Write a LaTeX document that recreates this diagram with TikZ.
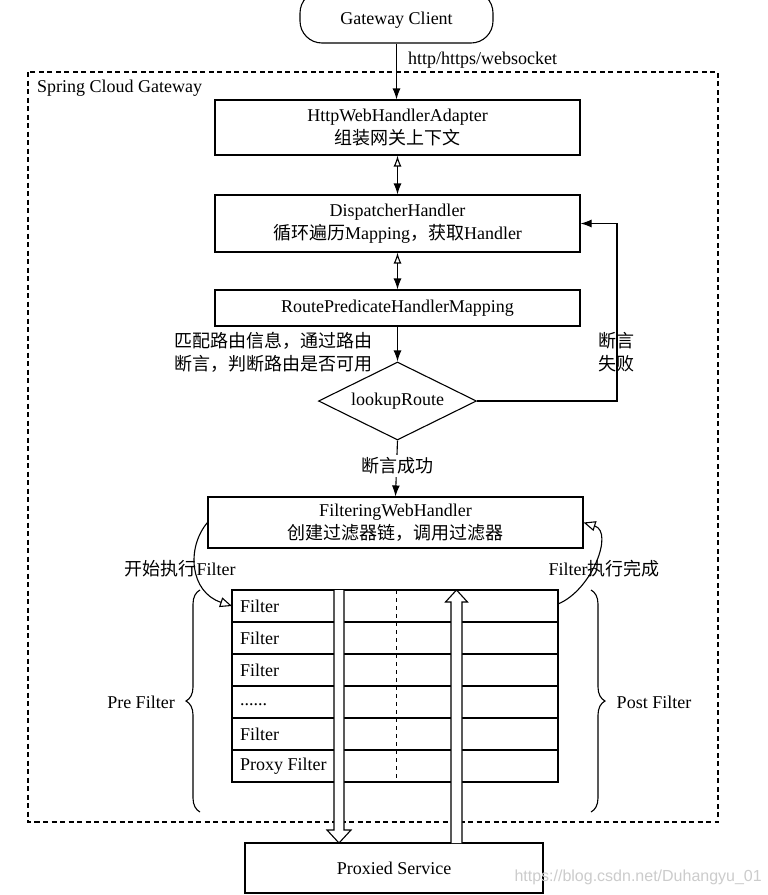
\documentclass[tikz,border=0pt]{standalone}
\usepackage{fontspec}
\setmainfont{Liberation Serif}
\newfontfamily\cjk{Noto Sans CJK SC}
\newfontfamily\wmfont{Liberation Sans}
\usetikzlibrary{shapes.geometric,arrows.meta,decorations.pathreplacing,calc}
\newcommand{\zh}[1]{{\cjk #1}}
\begin{document}
\begin{tikzpicture}[x=1pt,y=-1pt,
  every node/.style={font=\fontsize{18}{23}\selectfont},
  box/.style={draw, line width=1.1pt, rectangle, align=center, inner sep=0pt},
  conn/.style={line width=1.1pt},
  fa/.style={-{Latex[length=11pt,width=8pt]}},
  da/.style={{Latex[open,length=11pt,width=8pt]}-{Latex[length=11pt,width=8pt]}},
  oa/.style={-{Triangle[open,length=12pt,width=10pt]}},
  bigarrow/.style={draw, fill=white, line width=1.1pt},
  tline/.style={line width=1.1pt},
  flabel/.style={anchor=west, inner xsep=8pt, inner ysep=0pt},
  plain/.style={inner sep=0pt}
]
\useasboundingbox (0,0) rectangle (768,895);
\fill[white] (0,0) rectangle (768,895);

% outer dashed frame
\draw[line width=1.2pt, dash pattern=on 5pt off 3.5pt] (28,72) rectangle (718,822);
\node[plain, anchor=west] (scg) at (37,88) {Spring Cloud Gateway};

% nodes
\node[box, rounded corners=22pt, minimum width=193, minimum height=52] (client) at (396.5,17) {};
\node[plain] (clienttext) at (396.5,20) {Gateway Client};
\node[box, minimum width=365, minimum height=55] (adapter) at (397.5,127.5) {HttpWebHandlerAdapter\\\zh{组装网关上下文}};
\node[box, minimum width=365, minimum height=57] (dispatcher) at (397.5,223.5) {DispatcherHandler\\\zh{循环遍历}Mapping\zh{，获取}Handler};
\node[box, minimum width=365, minimum height=36] (rphm) at (397.5,308) {RoutePredicateHandlerMapping};
\node[draw, diamond, aspect=2, line width=1.1pt, minimum width=158, minimum height=78, inner sep=0pt] (lookup) at (397.5,401) {lookupRoute};
\node[box, minimum width=375, minimum height=51] (filtering) at (395.5,522.5) {FilteringWebHandler\\\zh{创建过滤器链，调用过滤器}};
\node[box, minimum width=298, minimum height=50] (proxied) at (394,868) {Proxied Service};

% connectors
\draw[conn, fa] (client.south) -- (client.south |- adapter.north);
\node[plain, anchor=west] (proto) at (408,60) {http/https/websocket};
\draw[conn, da] (adapter.south) -- (dispatcher.north);
\draw[conn, da] (dispatcher.south) -- (rphm.north);
\draw[conn, fa] (rphm.south) -- (lookup.north);
\node[plain, anchor=east, align=left] (match) at (373,352) {\zh{匹配路由信息，通过路由}\\\zh{断言，判断路由是否可用}};
\coordinate (loopc) at (617,223.5);
\draw[conn, fa] (lookup.east) -| (loopc) -- (dispatcher.east);
\node[plain, align=center] (fail) at (616,352) {\zh{断言}\\\zh{失败}};
\draw[conn, fa] (lookup.south) -- (filtering.north);
\node[fill=white, inner sep=3pt] (ok) at (397.5,466) {\zh{断言成功}};

% filter table
\draw[tline] (232,590) rectangle (558,782);
\foreach \yy in {622,654,686,718,750} \draw[tline] (232,\yy) -- (558,\yy);
\draw[line width=0.9pt, dash pattern=on 4pt off 4pt] (396,590) -- (396,782);
\node[flabel] (f1) at (232,606) {Filter};
\node[flabel] (f2) at (232,638) {Filter};
\node[flabel] (f3) at (232,670) {Filter};
\node[flabel] (f4) at (232,705) {......};
\node[flabel] (f5) at (232,734) {Filter};
\node[flabel] (f6) at (232,766) {Proxy Filter};
\coordinate (tabR1) at (558,604);

% big hollow arrows
\path[bigarrow] (334,590) -- (334,830) -- (327,830) -- (339,843) -- (351,830) -- (344,830) -- (344,590);
\path[bigarrow] (451,843) -- (451,602) -- (445.5,602) -- (456.5,590) -- (467.5,602) -- (462,602) -- (462,843);

% braces
\draw[line width=1.1pt, decorate, decoration={brace, amplitude=14pt, aspect=0.5}] (200,812) -- (200,590);
\draw[line width=1.1pt, decorate, decoration={brace, amplitude=14pt, aspect=0.5}] (591,590) -- (591,812);
\node[plain] (pre) at (141,702) {Pre Filter};
\node[plain] (post) at (654,702) {Post Filter};

% curved arrows
\draw[conn, oa] (filtering.west) .. controls (186,548) and (190,592) .. (f1.west);
\draw[conn, oa] (tabR1) .. controls (592,590) and (614,532) .. (filtering.east);
\node[plain] (start) at (180,569) {\zh{开始执行}Filter};
\node[plain] (done) at (604,569) {Filter\zh{执行完成}};

% watermark
\node[plain, anchor=east, font=\wmfont\fontsize{16}{18}\selectfont, text=black!20] (wm) at (762,877) {https://blog.csdn.net/Duhangyu\_01};
\end{tikzpicture}
\end{document}
